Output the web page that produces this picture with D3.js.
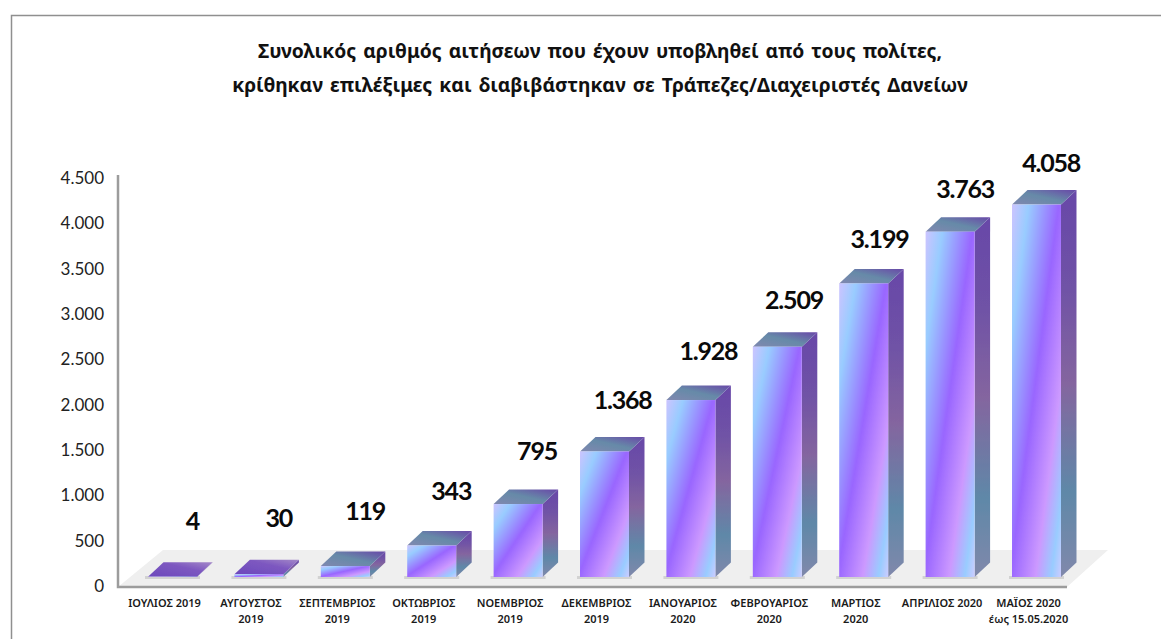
<!DOCTYPE html>
<html>
<head>
<meta charset="utf-8">
<script src="https://cdn.jsdelivr.net/npm/d3@7"></script>
<style>
  html, body { margin: 0; padding: 0; background: #fff; }
  svg { display: block; }
</style>
</head>
<body>
<div id="chart"></div>
<script>
// Data
const months = [
    "ΙΟΥΛΙΟΣ 2019", "ΑΥΓΟΥΣΤΟΣ\n2019", "ΣΕΠΤΕΜΒΡΙΟΣ\n2019", "ΟΚΤΩΒΡΙΟΣ\n2019",
    "ΝΟΕΜΒΡΙΟΣ\n2019", "ΔΕΚΕΜΒΡΙΟΣ\n2019", "ΙΑΝΟΥΑΡΙΟΣ\n2020", "ΦΕΒΡΟΥΑΡΙΟΣ\n2020",
    "ΜΑΡΤΙΟΣ\n2020", "ΑΠΡΙΛΙΟΣ 2020", "ΜΑΪΟΣ 2020\nέως 15.05.2020"
];
const applications = [4, 30, 119, 343, 795, 1368, 1928, 2509, 3199, 3763, 4058];
const yTicks = [0, 500, 1000, 1500, 2000, 2500, 3000, 3500, 4000, 4500];
const titleLines = [
    "Συνολικός αριθμός αιτήσεων που έχουν υποβληθεί από τους πολίτες,",
    "κρίθηκαν επιλέξιμες και διαβιβάστηκαν σε Τράπεζες/Διαχειριστές Δανείων"
];

const width = 1161;
const height = 639;
const depth = { x: 15.5, y: -14.5 };
const floorY = 587;

const svg = d3.select("#chart")
    .append("svg")
    .attr("width", width)
    .attr("height", height);

// Greek number format, 4.058 and not 4,058
const num = d3.formatLocale({ decimal: ",", thousands: ".", grouping: [3], currency: ["", "€"] }).format(",d");

// Scales. Axis labels sit on the back wall, bars stand further forward
const x = d3.scaleBand()
    .domain(months)
    .range([129.3, 1079.7])
    .paddingInner(0.433)
    .paddingOuter(0.2165);
const yAxisScale = d3.scaleLinear().domain([0, 4500]).range([586, 178]);
const yBar = d3.scaleLinear().domain([0, 4500]).range([577, 164]);
const yLabel = d3.scaleLinear().domain([0, 4500]).range([530, 133]);

// Gradients
const defs = svg.append("defs");
function gradient(id, x1, y1, x2, y2, stops) {
    const g = defs.append("linearGradient")
        .attr("id", id)
        .attr("x1", x1).attr("y1", y1)
        .attr("x2", x2).attr("y2", y2);
    stops.forEach(s => g.append("stop").attr("offset", s[0]).attr("stop-color", s[1]));
}
gradient("front", 0, 0, 1, 1, [
    [0, "#ccc4ff"], [0.17, "#99ccff"], [0.48, "#9966ff"],
    [0.74, "#cc99ff"], [0.9, "#99ccff"], [1, "#ccccff"]
]);
gradient("side", 0, 0, 0, 1, [
    [0, "#6848a8"], [0.25, "#6f52a6"], [0.5, "#84659f"],
    [0.78, "#5f88a8"], [1, "#8088ab"]
]);
gradient("top", 0, 1, 1, 0, [[0, "#8088b0"], [0.5, "#668aa8"], [1, "#6848a8"]]);
gradient("topFlat", 0, 1, 1, 0, [[0, "#6c48bc"], [0.6, "#7d58c0"], [1, "#a488c8"]]);

defs.append("filter")
    .attr("id", "soft")
    .append("feGaussianBlur")
    .attr("stdDeviation", 0.45);

// Frame
svg.append("path")
    .attr("d", `M11.5,${height} V15.5 H${width}`)
    .attr("fill", "none")
    .attr("stroke", "#8f8f8f")
    .attr("stroke-width", 1.5);

// Title
svg.append("g")
    .selectAll("text")
    .data(titleLines)
    .join("text")
    .attr("x", 600)
    .attr("y", (d, i) => 58 + i * 34)
    .attr("text-anchor", "middle")
    .attr("font-family", "'Noto Sans', sans-serif")
    .attr("font-weight", 700)
    .attr("font-size", 19.3)
    .attr("word-spacing", 2)
    .attr("fill", "#111")
    .text(d => d);

// Floor and axis lines
const floorBackY = 550;
svg.append("polygon")
    .attr("points", `118,${floorY} 163,${floorBackY} 1108,${floorBackY} 1067,${floorY}`)
    .attr("fill", "#efefef");
svg.append("path")
    .attr("d", `M118,175 V${floorY} H1067`)
    .attr("fill", "none")
    .attr("stroke", "#9c9c9c")
    .attr("stroke-width", 2.5);

// Y axis
const yAxis = svg.append("g")
    .attr("transform", "translate(107,0)")
    .call(d3.axisLeft(yAxisScale).tickValues(yTicks).tickFormat(num).tickSize(0));
yAxis.select(".domain").remove();
yAxis.selectAll("text")
    .attr("font-family", "Lato, 'Noto Sans', sans-serif")
    .attr("font-size", 17)
    .attr("fill", "#222");

// X axis, labels sit a bit left of the bars
const xAxis = svg.append("g")
    .attr("transform", "translate(-8,593)")
    .call(d3.axisBottom(x).tickSize(0));
xAxis.select(".domain").remove();
xAxis.selectAll("text").each(function(d) {
    const label = d3.select(this)
        .text(null)
        .attr("y", 14)
        .attr("dy", null)
        .attr("font-family", "'Noto Sans', sans-serif")
        .attr("font-weight", 600)
        .attr("font-size", 11)
        .attr("fill", "#1a1a1a");
    d.split("\n").forEach((line, i) => {
        label.append("tspan")
            .attr("x", 0)
            .attr("dy", i === 0 ? 0 : 16)
            .text(line);
    });
});

// Bars
const bars = svg.append("g")
    .attr("filter", "url(#soft)")
    .selectAll("g")
    .data(applications)
    .join("g");

// contact shadow under each bar
bars.append("rect")
    .attr("x", (d, i) => x(months[i]) - 3)
    .attr("y", yBar(0) - 1)
    .attr("width", x.bandwidth() + 6)
    .attr("height", 3)
    .attr("fill", "#d2d2d2");

bars.append("polygon")
    .attr("points", (d, i) => {
        const x1 = x(months[i]) + x.bandwidth();
        return [[x1, yBar(d)], [x1 + depth.x, yBar(d) + depth.y],
            [x1 + depth.x, yBar(0) + depth.y], [x1, yBar(0)]].join(" ");
    })
    .attr("fill", "url(#side)");

bars.append("polygon")
    .attr("points", (d, i) => {
        const x0 = x(months[i]);
        const x1 = x0 + x.bandwidth();
        return [[x0, yBar(d)], [x1, yBar(d)],
            [x1 + depth.x, yBar(d) + depth.y], [x0 + depth.x, yBar(d) + depth.y]].join(" ");
    })
    .attr("fill", d => d < 100 ? "url(#topFlat)" : "url(#top)");

bars.append("rect")
    .attr("x", (d, i) => x(months[i]))
    .attr("y", d => yBar(d))
    .attr("width", x.bandwidth())
    .attr("height", d => yBar(0) - yBar(d))
    .attr("fill", "url(#front)");

// Value labels
svg.append("g")
    .selectAll("text")
    .data(applications)
    .join("text")
    .attr("x", (d, i) => x(months[i]) + x.bandwidth() / 2 + 20 - d * 0.0013)
    .attr("y", d => yLabel(d))
    .attr("text-anchor", "middle")
    .attr("font-family", "Lato, 'Noto Sans', sans-serif")
    .attr("font-weight", 700)
    .attr("font-size", 25)
    .attr("letter-spacing", -1.2)
    .attr("fill", "#0a0a0a")
    .text(d => num(d));
</script>
</body>
</html>
